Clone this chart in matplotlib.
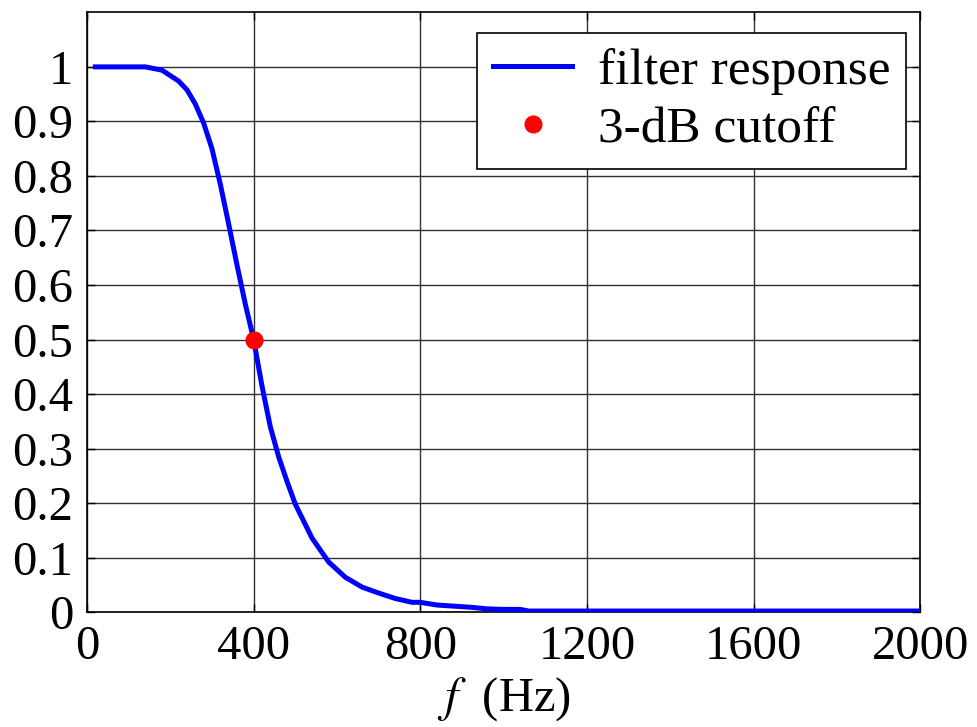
import numpy as np
import matplotlib
matplotlib.use("Agg")
import matplotlib.pyplot as plt

# frequency response
freq_hz = [20, 60, 100, 140, 180, 220, 240, 260, 280, 300, 320, 340, 360, 380,
           400, 420, 440, 460, 480, 500, 540, 580, 620, 660, 700, 740, 780,
           800, 840, 880, 920, 960, 1000, 1040, 1060, 2000]
response = [1.0, 1.0, 1.0, 1.0, 0.994, 0.974, 0.958, 0.932, 0.897, 0.850,
            0.785, 0.712, 0.637, 0.565, 0.500, 0.415, 0.340, 0.285, 0.240,
            0.198, 0.136, 0.092, 0.064, 0.046, 0.035, 0.025, 0.018, 0.018,
            0.013, 0.011, 0.009, 0.006, 0.005, 0.005, 0.002, 0.002]
cutoff_f = [400]
cutoff_v = [0.5]

x_ticks = [0, 400, 800, 1200, 1600, 2000]
y_ticks = [0, 0.1, 0.2, 0.3, 0.4, 0.5, 0.6, 0.7, 0.8, 0.9, 1.0]
y_tick_labels = ["0", "0.1", "0.2", "0.3", "0.4", "0.5", "0.6", "0.7", "0.8", "0.9", "1"]

plt.rcParams["font.family"] = ["Liberation Serif", "DejaVu Serif"]
plt.rcParams["mathtext.fontset"] = "stix"

fig = plt.figure(figsize=(9.77, 7.27), dpi=100)
ax = fig.add_axes([0.089, 0.158, 0.853, 0.825])

ax.plot(freq_hz, response, color="#0000ff", lw=3.6, label="filter response", zorder=3)
ax.plot(cutoff_f, cutoff_v, "o", color="#ff0000", ms=12, label="3-dB cutoff", zorder=4)

ax.set_xlim(0, 2000)
ax.set_ylim(0, 1.1)
ax.set_xticks(x_ticks)
ax.set_yticks(y_ticks)
ax.set_yticklabels(y_tick_labels)
ax.tick_params(direction="in", length=6, width=1, labelsize=35, top=True, right=True)
ax.tick_params(axis="x", pad=9)
ax.tick_params(axis="y", pad=10)
ax.grid(True, color="#303030", lw=1, ls="-")
for sp in ax.spines.values():
    sp.set_linewidth(1.2)

ax.set_xlabel("$f$  (Hz)", fontsize=35, labelpad=5)

leg = ax.legend(loc="upper right", fontsize=37, fancybox=False, framealpha=1,
                edgecolor="black", handlelength=1.55, borderaxespad=0.28,
                borderpad=0.3, labelspacing=0.22, handletextpad=0.5,
                bbox_to_anchor=(1.0, 0.99))
leg.get_frame().set_linewidth(1.2)

fig.savefig("out.png", dpi=100)
